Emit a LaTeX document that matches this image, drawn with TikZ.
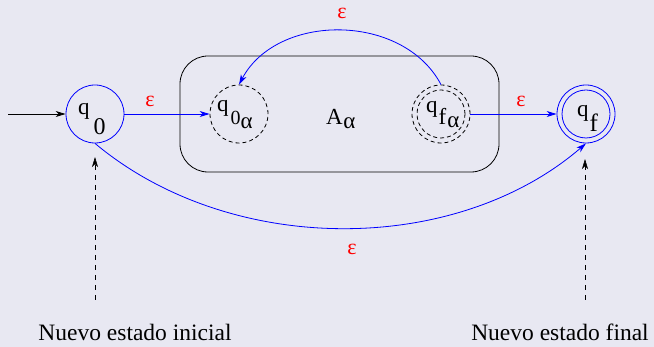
\documentclass[tikz,border=0pt]{standalone}
\usepackage{fontspec}
\setmainfont{Liberation Serif}
\usetikzlibrary{arrows.meta}
\definecolor{bg}{RGB}{232,232,242}
\begin{document}
\begin{tikzpicture}[x=1pt,y=-1pt,
  st/.style={circle,minimum size=58pt,inner sep=0pt,line width=0.8pt},
  sti/.style={circle,minimum size=48pt,inner sep=0pt,line width=0.8pt},
  dsh/.style={dash pattern=on 4pt off 3pt},
  arr/.style={-{Stealth[length=10pt,width=6pt,inset=3pt]}},
  lbl/.style={inner sep=0pt,anchor=base west,font=\fontsize{23}{23}\selectfont},
  eps/.style={inner sep=0pt,text=red,font=\fontsize{22}{22}\selectfont},
  note/.style={inner sep=0pt,anchor=base,font=\fontsize{23.5}{24}\selectfont},
  conn/.style={blue,line width=0.8pt,arr}]
\fill[bg] (0,0) rectangle (654,347);
\useasboundingbox (0,0) rectangle (654,347);
% box
\node[draw,line width=0.8pt,rounded corners=28pt,minimum width=319pt,minimum height=116pt,inner sep=0pt] (box) at (339.5,114) {};
% states
\node[st,draw=blue] (q0) at (95,114) {};
\node[st,draw=black,dsh] (q0a) at (239,114) {};
\node[st,draw=black,dsh] (qfa) at (441,114) {};
\node[sti,draw=black,dsh] (qfai) at (441,114) {};
\node[st,draw=blue] (qf) at (586,114) {};
\node[sti,draw=blue] (qfi) at (586,114) {};
% labels
\node[lbl] (l0) at (78,115) {q\kern4pt\raisebox{-20pt}{\fontsize{24}{24}\selectfont 0}};
\node[lbl] (l0a) at (217,112) {q\kern2pt\raisebox{-13pt}{\fontsize{20}{20}\selectfont 0\raisebox{-4pt}{\fontsize{23}{23}\selectfont α}}};
\node[lbl] (lfa) at (426,113) {q\kern1pt\raisebox{-12pt}{\fontsize{23}{23}\selectfont f\kern1pt\raisebox{-3pt}{α}}};
\node[lbl] (lf) at (577,117) {q\kern1pt\raisebox{-15pt}{\fontsize{25}{25}\selectfont f}};
\node[lbl] (la) at (326,125) {A\kern0.5pt\raisebox{-4pt}{α}};
% connectors
\coordinate (start) at (8,114);
\draw[line width=0.8pt,arr] (start) -- (q0);
\draw[conn] (q0) -- (q0a);
\draw[conn] (qfa) -- (qf);
\draw[conn] (qfa.north) .. controls +(-38,-72) and +(38,-72) .. (q0a.north);
\draw[conn] (q0.south) .. controls +(135,113) and +(-131,113) .. (qf.south);
% epsilons
\node[eps] (e1) at (150,101) {ε};
\node[eps] (e2) at (521,101) {ε};
\node[eps] (e3) at (342,13) {ε};
\node[eps] (e4) at (352,249) {ε};
% notes
\coordinate (ni0) at (95,300);
\coordinate (ni1) at (95,157);
\coordinate (nf0) at (585,300);
\coordinate (nf1) at (585,159);
\draw[dash pattern=on 5pt off 5pt,line width=0.6pt,arr] (ni0) -- (ni1);
\draw[dash pattern=on 5pt off 5pt,line width=0.6pt,arr] (nf0) -- (nf1);
\node[note] (ti) at (135,341) {Nuevo estado inicial};
\node[note] (tf) at (560,341) {Nuevo estado final};
\end{tikzpicture}
\end{document}
